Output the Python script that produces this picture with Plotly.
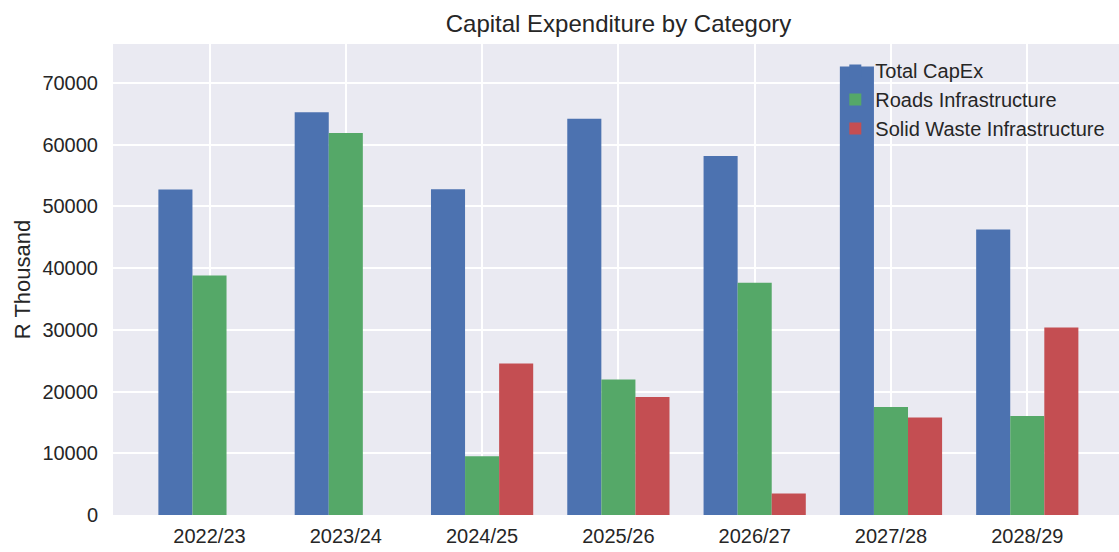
import plotly.graph_objects as go

# Fiscal years and capital expenditure per category (R thousand)
years = ["2022/23", "2023/24", "2024/25", "2025/26", "2026/27", "2027/28", "2028/29"]
total_capex = [52770, 65250, 52800, 64200, 58170, 72700, 46280]
roads_infra = [38820, 61900, 9520, 21960, 37620, 17500, 16050]
solid_waste = [None, None, 24550, 19140, 3470, 15800, 30390]

y_ticks = [0, 10000, 20000, 30000, 40000, 50000, 60000, 70000]

FONT = "Liberation Sans, Arial, sans-serif"
TEXT = "#262626"

fig = go.Figure()
for name, vals, color in [
    ("Total CapEx", total_capex, "#4C72B0"),
    ("Roads Infrastructure", roads_infra, "#55A868"),
    ("Solid Waste Infrastructure", solid_waste, "#C44E52"),
]:
    fig.add_trace(go.Bar(x=years, y=vals, name=name, marker=dict(color=color, line=dict(width=0))))

fig.update_layout(
    width=1119,
    height=552,
    margin=dict(l=113, r=0, t=44, b=37),
    paper_bgcolor="white",
    plot_bgcolor="#EAEAF2",
    barmode="group",
    bargap=0.25,
    bargroupgap=0,
    font=dict(family=FONT, color=TEXT, size=20),
    title=dict(
        text="Capital Expenditure by Category",
        font=dict(size=24, color=TEXT),
        xref="container", x=0.5527, xanchor="center",
        yref="container", y=1 - 24 / 552, yanchor="middle",
    ),
    legend=dict(
        x=0.718, xanchor="left", y=0.985, yanchor="top",
        bgcolor="rgba(0,0,0,0)", borderwidth=0,
        font=dict(size=20, color=TEXT),
    ),
    showlegend=True,
)

fig.update_xaxes(
    type="category",
    range=[-0.708, 6.673],
    showgrid=True, gridcolor="white", gridwidth=2,
    showline=False, zeroline=False, ticks="",
    ticklabelstandoff=7,
    tickfont=dict(size=20, color=TEXT),
)
fig.update_yaxes(
    range=[0, 76330],
    tickvals=y_ticks, tickformat="d",
    showgrid=True, gridcolor="white", gridwidth=2,
    showline=False, zeroline=False, ticks="",
    ticklabelstandoff=14,
    tickfont=dict(size=20, color=TEXT),
    title=dict(text="R Thousand", font=dict(size=22, color=TEXT), standoff=5),
)

fig.write_html("out.html")
